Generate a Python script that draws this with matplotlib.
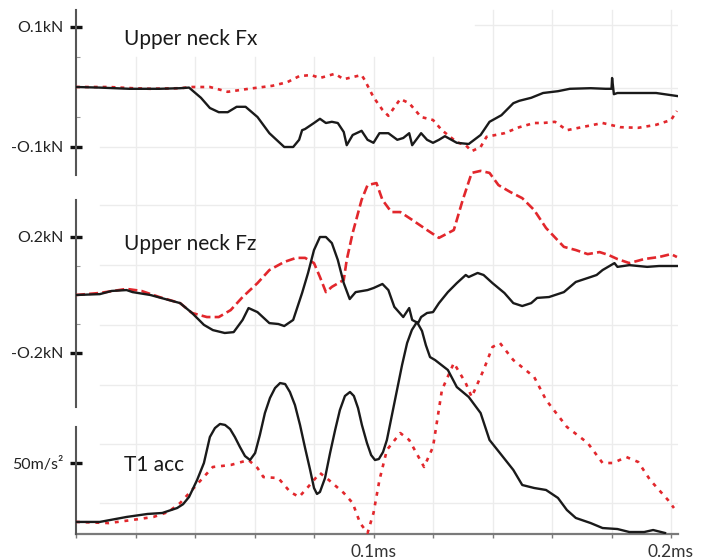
import matplotlib
matplotlib.use("Agg")
import matplotlib.pyplot as plt

plt.rcParams['font.family'] = ['Lato', 'DejaVu Sans']
plt.rcParams['lines.scale_dashes'] = False

# ---------------- data (time in ms) ----------------
# Upper neck Fx (kN)
fx_black_t = [0, 0.008, 0.018, 0.028, 0.035, 0.038, 0.042, 0.045, 0.048, 0.051, 0.054, 0.057, 0.061,
              0.065, 0.070, 0.073, 0.075, 0.076, 0.077, 0.080, 0.082, 0.084, 0.086, 0.088, 0.090, 0.091,
              0.093, 0.096, 0.098, 0.100, 0.102, 0.105, 0.108, 0.110, 0.112, 0.113, 0.116, 0.118, 0.120,
              0.122, 0.124, 0.128, 0.132, 0.136, 0.139, 0.143, 0.147, 0.149, 0.153, 0.157, 0.162, 0.166,
              0.173, 0.178, 0.180, 0.1802, 0.1808, 0.182, 0.186, 0.195, 0.202]
fx_black_v = [0, -0.001, -0.003, -0.003, -0.002, -0.001, -0.018, -0.035, -0.042, -0.042, -0.033, -0.033, -0.050,
              -0.077, -0.100, -0.100, -0.088, -0.072, -0.070, -0.060, -0.053, -0.060, -0.058, -0.060, -0.075, -0.097,
              -0.080, -0.073, -0.088, -0.093, -0.077, -0.077, -0.088, -0.085, -0.077, -0.097, -0.077, -0.088, -0.093,
              -0.088, -0.082, -0.093, -0.095, -0.080, -0.058, -0.047, -0.027, -0.023, -0.018, -0.010, -0.007, -0.003,
              -0.002, -0.003, -0.003, 0.015, -0.012, -0.010, -0.010, -0.010, -0.015]
fx_red_t = [0, 0.011, 0.019, 0.025, 0.035, 0.039, 0.045, 0.051, 0.058, 0.066, 0.071, 0.075, 0.079, 0.082,
            0.087, 0.090, 0.096, 0.097, 0.100, 0.103, 0.105, 0.109, 0.112, 0.116, 0.120, 0.123, 0.128, 0.131,
            0.133, 0.136, 0.138, 0.144, 0.149, 0.154, 0.157, 0.161, 0.165, 0.170, 0.177, 0.183, 0.189, 0.195,
            0.200, 0.202]
fx_red_v = [0, 0, -0.002, -0.003, -0.002, 0, 0, -0.008, -0.003, 0.002, 0.008, 0.018, 0.020, 0.015,
            0.022, 0.013, 0.020, 0.012, -0.017, -0.038, -0.048, -0.020, -0.027, -0.050, -0.055, -0.072, -0.092, -0.097,
            -0.107, -0.100, -0.083, -0.077, -0.067, -0.060, -0.060, -0.058, -0.072, -0.067, -0.060, -0.067, -0.068, -0.063,
            -0.055, -0.040]

# Upper neck Fz (kN)
fz_black_t = [0, 0.008, 0.012, 0.017, 0.019, 0.025, 0.035, 0.039, 0.043, 0.046, 0.050, 0.053, 0.056, 0.058,
              0.061, 0.065, 0.068, 0.070, 0.073, 0.076, 0.078, 0.080, 0.082, 0.084, 0.086, 0.088, 0.090, 0.092,
              0.094, 0.098, 0.100, 0.103, 0.105, 0.107, 0.110, 0.112, 0.113, 0.115, 0.116, 0.118, 0.120, 0.122,
              0.125, 0.128, 0.131, 0.132, 0.135, 0.137, 0.140, 0.144, 0.147, 0.150, 0.153, 0.155, 0.159, 0.164,
              0.168, 0.173, 0.175, 0.177, 0.181, 0.182, 0.186, 0.192, 0.196, 0.202]
fz_black_v = [0, 0.003, 0.014, 0.017, 0.010, 0, -0.028, -0.062, -0.103, -0.121, -0.131, -0.128, -0.086, -0.045,
              -0.059, -0.097, -0.100, -0.107, -0.086, 0.007, 0.076, 0.155, 0.200, 0.200, 0.179, 0.121, 0.041, -0.014,
              0.010, 0.017, 0.024, 0.038, 0.017, -0.041, -0.076, -0.045, -0.086, -0.097, -0.076, -0.062, -0.059, -0.028,
              0.010, 0.041, 0.069, 0.062, 0.076, 0.069, 0.041, 0.007, -0.028, -0.038, -0.028, -0.010, -0.007, 0.010,
              0.045, 0.062, 0.069, 0.086, 0.110, 0.097, 0.103, 0.097, 0.100, 0.100]
fz_red_t = [0, 0.008, 0.017, 0.022, 0.028, 0.035, 0.039, 0.044, 0.048, 0.052, 0.056, 0.061, 0.065, 0.070,
            0.074, 0.077, 0.080, 0.082, 0.084, 0.086, 0.090, 0.091, 0.093, 0.096, 0.098, 0.101, 0.103, 0.106,
            0.109, 0.113, 0.118, 0.122, 0.127, 0.130, 0.133, 0.136, 0.139, 0.142, 0.146, 0.150, 0.154, 0.158,
            0.164, 0.168, 0.172, 0.176, 0.179, 0.182, 0.186, 0.191, 0.196, 0.200, 0.202]
fz_red_v = [0, 0.007, 0.021, 0.014, -0.007, -0.028, -0.062, -0.076, -0.076, -0.052, -0.007, 0.041, 0.086, 0.114,
            0.128, 0.128, 0.110, 0.062, 0.010, 0.028, 0.052, 0.121, 0.214, 0.328, 0.379, 0.386, 0.328, 0.286,
            0.286, 0.259, 0.224, 0.197, 0.224, 0.328, 0.421, 0.428, 0.421, 0.379, 0.355, 0.334, 0.293, 0.231,
            0.166, 0.155, 0.141, 0.148, 0.138, 0.124, 0.110, 0.124, 0.131, 0.141, 0.131]

# T1 acc (m/s^2)
t1_black_t = [0, 0.008, 0.017, 0.024, 0.029, 0.034, 0.036, 0.038, 0.0407, 0.043, 0.045, 0.0467, 0.0484,
              0.0501, 0.0518, 0.0534, 0.0551, 0.0568, 0.0585, 0.0602, 0.0618, 0.0635, 0.0652, 0.0669, 0.0686,
              0.0703, 0.0719, 0.0736, 0.0753, 0.0770, 0.0787, 0.0800, 0.0810, 0.0820, 0.0837, 0.0854, 0.0871,
              0.0887, 0.0904, 0.0921, 0.0934, 0.0948, 0.0961, 0.0978, 0.0992, 0.1005, 0.1018, 0.1032, 0.1045,
              0.1062, 0.1079, 0.1096, 0.1113, 0.1129, 0.1146, 0.1163, 0.1176, 0.1190, 0.1207, 0.125, 0.128,
              0.132, 0.136, 0.139, 0.1425, 0.147, 0.150, 0.154, 0.158, 0.162, 0.165, 0.168, 0.173, 0.177,
              0.182, 0.186, 0.191, 0.194, 0.198]
t1_black_v = [8.5, 8.5, 12.0, 14.1, 14.8, 18.3, 21.0, 26.1, 38.0, 50.0, 68.3, 74.6, 77.5,
              76.8, 73.9, 68.3, 61.3, 54.9, 52.1, 57.0, 69.7, 85.2, 95.8, 102.8, 106.3,
              105.6, 100.0, 90.8, 76.8, 60.6, 45.1, 32.4, 28.2, 29.6, 39.4, 57.0, 73.2,
              87.3, 97.2, 100.0, 97.2, 88.7, 76.8, 64.1, 55.6, 52.1, 52.8, 57.7, 66.2,
              83.8, 101.4, 119.0, 134.5, 143.7, 149.3, 143.0, 133.0, 124.6, 122.5, 115.5, 103.5,
              96.5, 85.2, 66.2, 57.0, 45.1, 34.5, 32.4, 31.0, 25.4, 16.9, 11.3, 7.7, 4.2,
              3.5, 1.4, 1.4, 2.8, 0.7]
t1_red_t = [0, 0.011, 0.019, 0.026, 0.031, 0.035, 0.039, 0.042, 0.046, 0.052, 0.058, 0.061, 0.063, 0.068,
            0.072, 0.075, 0.078, 0.082, 0.085, 0.090, 0.093, 0.0955, 0.098, 0.100, 0.102, 0.1045, 0.109, 0.112,
            0.117, 0.120, 0.123, 0.127, 0.131, 0.133, 0.137, 0.140, 0.1425, 0.147, 0.154, 0.158, 0.165, 0.172,
            0.177, 0.1805, 0.185, 0.189, 0.193, 0.199, 0.201]
t1_red_v = [8.5, 7.7, 9.9, 12.0, 15.5, 21.8, 31.0, 38.0, 47.2, 48.6, 52.1, 46.5, 40.1, 39.4,
            29.6, 26.1, 33.1, 43.0, 38.0, 28.9, 21.8, 7.7, 0.7, 14.8, 38.0, 59.2, 71.1, 66.2,
            47.2, 61.3, 101.4, 120.4, 106.3, 96.5, 115.5, 131.7, 134.5, 122.5, 110.6, 94.4, 75.4, 64.1,
            50.0, 50.0, 54.2, 50.7, 38.0, 23.9, 18.3]

x_ticks = [0, 0.02, 0.04, 0.06, 0.08, 0.1, 0.12, 0.14, 0.16, 0.18, 0.2]
x_ticklabels = ['', '', '', '', '', '0.1ms', '', '', '', '', '0.2ms']

titles = ['Upper neck Fx', 'Upper neck Fz', 'T1 acc']
y_ticks = [[0.1, -0.1], [0.2, -0.2], [50]]
y_ticklabels = [['O.1kN', '-O.1kN'], ['O.2kN', '-O.2kN'], ['50m/s²']]
y_minor = [[0.05, -0.05], [0.1, -0.1], []]

# ---------------- layout ----------------
W, H = 702, 560
AX_L, AX_R, AX_TOP, AX_BOT = 76, 678, 0, 534       # pixel box of the shared plot area
PX_PER_MS = 2975.0
XMAX = (AX_R - AX_L) / PX_PER_MS

# per panel: zero-level pixel row, pixels per unit, spine pixel range, title baseline row
panels = [
    dict(zero=87, ppu=600.0, spine=(10, 175), title_y=45),
    dict(zero=295, ppu=290.0, spine=(200, 407), title_y=250),
    dict(zero=534, ppu=1.42, spine=(427, 534), title_y=471),
]

RED = '#e2272c'
BLACK = '#1a1a1a'
red_styles = [(0, (2.8, 3.6)), (0, (6.5, 3.0)), (0, (2.8, 4.2))]

fig = plt.figure(figsize=(W / 100, H / 100), dpi=100)
rect = [AX_L / W, (H - AX_BOT) / H, (AX_R - AX_L) / W, (AX_BOT - AX_TOP) / H]

# background axes: grid + x axis
bg = fig.add_axes(rect)
bg.set_xlim(0, XMAX)
bg.set_ylim(AX_BOT, AX_TOP)
bg.patch.set_alpha(0)
grid_c = '#ececec'
for xt in x_ticks[1:]:
    top = 10 if xt >= 0.14 else 57
    bg.plot([xt, xt], [top, AX_BOT], color=grid_c, lw=1.0, zorder=0)
for row in [88, 147, 205, 265, 325, 385, 444, 503]:
    bg.plot([0.008, XMAX], [row, row], color=grid_c, lw=1.0, zorder=0)
bg.plot([0.134, XMAX], [25, 25], color=grid_c, lw=1.0, zorder=0)
for s in ['top', 'right', 'left']:
    bg.spines[s].set_visible(False)
bg.spines['bottom'].set_color('#7a7a7a')
bg.spines['bottom'].set_linewidth(1.6)
bg.set_yticks([])
bg.set_xticks(x_ticks)
bg.set_xticklabels(x_ticklabels, fontsize=12.5, color='#333333')
bg.tick_params(axis='x', direction='out', length=3, width=1, color='#7a7a7a', pad=4)

data = [
    (fx_black_t, fx_black_v, fx_red_t, fx_red_v),
    (fz_black_t, fz_black_v, fz_red_t, fz_red_v),
    (t1_black_t, t1_black_v, t1_red_t, t1_red_v),
]

for i, p in enumerate(panels):
    ax = fig.add_axes(rect, facecolor='none')
    ax.set_xlim(0, XMAX)
    lo = (p['zero'] - AX_BOT) / p['ppu']
    hi = (p['zero'] - AX_TOP) / p['ppu']
    ax.set_ylim(lo, hi)
    bt, bv, rt, rv = data[i]
    ax.plot(rt, rv, color=RED, lw=1.9, linestyle=red_styles[i], zorder=3)
    ax.plot(bt, bv, color=BLACK, lw=1.7, zorder=4, solid_joinstyle='round')
    for s in ['top', 'right', 'bottom']:
        ax.spines[s].set_visible(False)
    s0, s1 = p['spine']
    ax.spines['left'].set_bounds((p['zero'] - s1) / p['ppu'], (p['zero'] - s0) / p['ppu'])
    ax.spines['left'].set_color('#555555')
    ax.spines['left'].set_linewidth(1.5)
    ax.set_xticks([])
    ax.set_yticks(y_ticks[i])
    ax.set_yticklabels(y_ticklabels[i], fontsize=11.5, color='#222222')
    ax.tick_params(axis='y', which='major', direction='inout', length=8, width=2.4,
                   color='#111111', pad=5)
    if y_minor[i]:
        ax.set_yticks(y_minor[i], minor=True)
        ax.tick_params(axis='y', which='minor', direction='in', length=3, width=0.8,
                       color='#999999')
    fig.text(124 / W, 1 - p['title_y'] / H, titles[i], fontsize=15, color='#1a1a1a',
             ha='left', va='baseline')

fig.savefig('out.png', dpi=100)
